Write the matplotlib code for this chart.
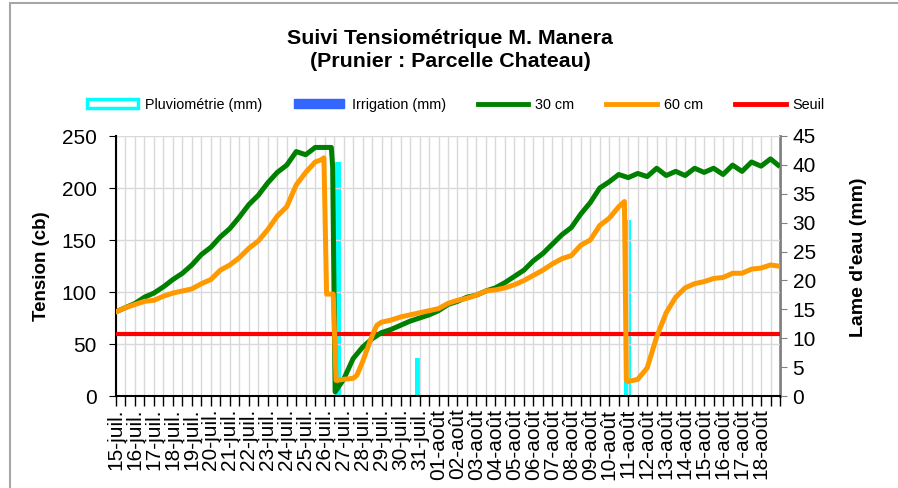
import matplotlib
matplotlib.use("Agg")
import matplotlib.pyplot as plt
from matplotlib.lines import Line2D
from matplotlib.patches import Patch, Rectangle

plt.rcParams['font.family'] = ['Liberation Sans', 'DejaVu Sans']

# jours depuis le 15 juillet
dates = ['15-juil.', '16-juil.', '17-juil.', '18-juil.', '19-juil.', '20-juil.',
         '21-juil.', '22-juil.', '23-juil.', '24-juil.', '25-juil.', '26-juil.',
         '27-juil.', '28-juil.', '29-juil.', '30-juil.', '31-juil.',
         '01-août', '02-août', '03-août', '04-août', '05-août', '06-août',
         '07-août', '08-août', '09-août', '10-août', '11-août', '12-août',
         '13-août', '14-août', '15-août', '16-août', '17-août', '18-août']

# sonde 30 cm
j30 = [0, 0.5, 1, 1.5, 2, 2.5, 3, 3.5, 4, 4.5, 5, 5.5, 6, 6.5, 7, 7.5, 8, 8.5,
       9, 9.5, 10, 10.5, 11, 11.35, 11.42, 11.55, 12, 12.5, 13, 13.5, 14, 14.5,
       15, 15.5, 16, 16.5, 17, 17.5, 18, 18.5, 19, 19.5, 20, 20.5, 21, 21.5,
       22, 22.5, 23, 23.5, 24, 24.5, 25, 25.5, 26, 26.5, 27, 27.5, 28, 28.5,
       29, 29.5, 30, 30.5, 31, 31.5, 32, 32.5, 33, 33.5, 34, 34.5, 34.9]
t30 = [81, 85, 89, 95, 99, 105, 112, 118, 126, 136, 143, 153, 161, 172, 184,
       193, 205, 215, 222, 235, 232, 239, 239, 239, 220, 4, 16, 36, 47, 55, 61,
       64, 68, 72, 75, 78, 82, 88, 91, 95, 97, 101, 104, 109, 115, 121, 130,
       137, 146, 155, 162, 175, 186, 200, 206, 213, 210, 214, 211, 219, 212,
       216, 212, 219, 215, 219, 213, 222, 216, 225, 221, 228, 222]

# sonde 60 cm
j60 = [0, 0.5, 1, 1.5, 2, 2.5, 3, 3.5, 4, 4.5, 5, 5.5, 6, 6.5, 7, 7.5, 8, 8.5,
       9, 9.5, 10, 10.5, 10.8, 10.96, 11.1, 11.45, 11.6, 12, 12.5, 12.7, 13,
       13.5, 13.75, 14, 14.5, 15, 15.5, 16, 16.5, 17, 17.5, 18, 18.5, 19, 19.5,
       20, 20.5, 21, 21.5, 22, 22.5, 23, 23.5, 24, 24.5, 25, 25.5, 26, 26.5,
       26.8, 26.9, 27, 27.5, 28, 28.5, 29, 29.5, 30, 30.5, 31, 31.5, 32, 32.5,
       33, 33.5, 34, 34.5, 34.9]
t60 = [81, 85, 88, 91, 92, 96, 99, 101, 103, 108, 112, 121, 126, 133, 142, 149,
       160, 173, 182, 203, 215, 225, 227, 229, 98, 98, 15, 16, 17, 20, 33, 58,
       68, 71, 73, 76, 78, 80, 82, 84, 89, 92, 94, 97, 101, 102, 104, 107, 111,
       116, 121, 127, 132, 135, 145, 150, 164, 171, 182, 187, 15, 14, 16, 27,
       57, 80, 95, 104, 108, 110, 113, 114, 118, 118, 122, 123, 126, 125]

pluie_j = [11.66, 15.92, 26.95]
pluie_mm = [40.5, 6.5, 30.5]

seuil = 60

fig = plt.figure(figsize=(8.98, 4.88), dpi=100)
ax = fig.add_axes([116/898, 1 - 396/488, 664/898, 260/488])
ax2 = ax.twinx()
ax.set_zorder(ax2.get_zorder() + 1)
ax.patch.set_visible(False)

ax2.bar(pluie_j, pluie_mm, width=0.36, color='#00FFFF', zorder=2)

ax.axhline(seuil, color='#FF0000', lw=3, zorder=3)
ax.plot(j30, t30, color='#008000', lw=3.6, zorder=4, solid_joinstyle='round')
ax.plot(j60, t60, color='#FF9900', lw=3.6, zorder=5, solid_joinstyle='round')

ax.set_xlim(0, 35)
ax.set_ylim(0, 250)
ax2.set_ylim(0, 45)
ax.set_yticks(range(0, 251, 50))
ax2.set_yticks(range(0, 46, 5))
ax.set_xticks(range(len(dates)))
ax.set_xticklabels(dates, rotation=90)
ax.set_xticks([i / 2 for i in range(71)], minor=True)

ax.grid(axis='y', color='#D9D9D9', lw=1)
ax.grid(axis='x', which='both', color='#D9D9D9', lw=1)
ax.set_axisbelow(True)

ax.tick_params(axis='x', which='both', length=7, width=1, color='black')
ax.tick_params(axis='x', labelsize=15, pad=2)
ax.tick_params(axis='y', length=5, labelsize=15, pad=9)
ax2.tick_params(axis='y', length=5, labelsize=15, color='#808080', pad=4)

for s in ['top', 'right']:
    ax.spines[s].set_visible(False)
for s in ['top', 'left', 'bottom']:
    ax2.spines[s].set_visible(False)
ax.spines['left'].set_linewidth(1.5)
ax.spines['bottom'].set_linewidth(1.5)
ax2.spines['right'].set_color('#808080')
ax2.spines['right'].set_linewidth(2)

ax.set_ylabel('Tension (cb)', fontsize=13.5, fontweight='bold')
ax.yaxis.set_label_coords(-0.100, 0.5)
ax2.set_ylabel("Lame d'eau (mm)", fontsize=14, fontweight='bold')
ax2.yaxis.set_label_coords(1.106, 0.535)

fig.text(450/898, 1 - 50/488, 'Suivi Tensiométrique M. Manera\n(Prunier : Parcelle Chateau)',
         ha='center', va='center', fontsize=15.4, fontweight='bold', linespacing=1.3)

handles = [Patch(facecolor='white', edgecolor='#00FFFF', lw=2.5),
           Patch(facecolor='#3366FF', edgecolor='#3366FF'),
           Line2D([], [], color='#008000', lw=3.5),
           Line2D([], [], color='#FF9900', lw=3.5),
           Line2D([], [], color='#FF0000', lw=3.5)]
labels = ['Pluviométrie (mm)', 'Irrigation (mm)', '30 cm', '60 cm', 'Seuil']
fig.legend(handles, labels, loc='center', bbox_to_anchor=(456/898, 1 - 105/488),
           ncol=5, frameon=False, fontsize=10.4, handlelength=3.5,
           handleheight=0.6, handletextpad=0.5, columnspacing=2.2)

fig.patches.append(Rectangle((10/898, -0.05), 1.0, 1 - 3/488 + 0.05,
                             transform=fig.transFigure, fill=False,
                             edgecolor='#A6A6A6', lw=1.5))

fig.savefig('out.png', dpi=100)
